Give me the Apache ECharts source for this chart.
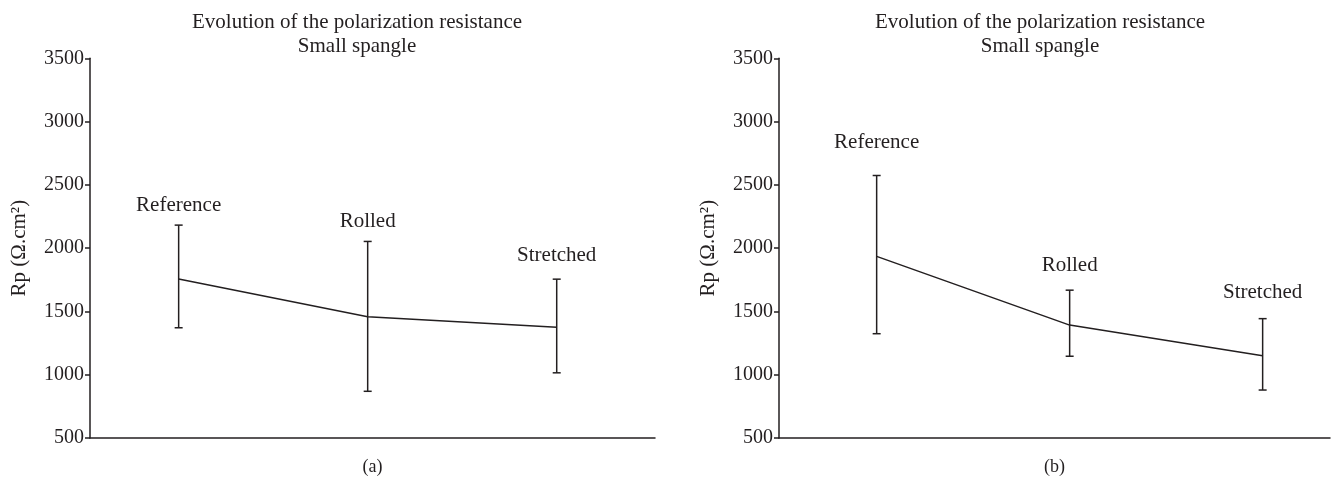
<!DOCTYPE html>
<html>
<head>
<meta charset="utf-8">
<script src="https://cdn.jsdelivr.net/npm/echarts@6/dist/echarts.min.js"></script>
<style>
html,body{margin:0;padding:0;background:#fff;}
#chart{width:1342px;height:481px;}
</style>
</head>
<body>
<div id="chart"></div>
<script>
// ---- data ----
const categories = ['Reference', 'Rolled', 'Stretched'];
const panelTitles = ['Evolution of the polarization resistance\nSmall spangle', 'Evolution of the polarization resistance\nSmall spangle'];
const panelNames = ['(a)', '(b)'];
const yAxisName = 'Rp (\u03A9.cm\u00B2)';
const yTicks = [500, 1000, 1500, 2000, 2500, 3000, 3500];

const meanA  = [1757, 1458, 1376];
const upperA = [2182, 2053, 1755];
const lowerA = [1371, 869, 1015];

const meanB  = [1935, 1392, 1150];
const upperB = [2574, 1668, 1443];
const lowerB = [1324, 1146, 879];

// ---- styling ----
const FONT = "'Liberation Serif','Times New Roman',serif";
const INK = '#231f20';
const labelGaps = [[20, 20, 24], [33, 25, 26]];

const chart = echarts.init(document.getElementById('chart'));

function makeErr(panel) {
  return function (params, api) {
    const x = api.value(0);
    const lo = api.coord([x, api.value(1)]);
    const hi = api.coord([x, api.value(2)]);
    const cap = 4;
    const st = { stroke: INK, lineWidth: 1.5 };
    return {
      type: 'group',
      children: [
        { type: 'line', shape: { x1: lo[0], y1: lo[1], x2: hi[0], y2: hi[1] }, style: st },
        { type: 'line', shape: { x1: hi[0] - cap, y1: hi[1], x2: hi[0] + cap, y2: hi[1] }, style: st },
        { type: 'line', shape: { x1: lo[0] - cap, y1: lo[1], x2: lo[0] + cap, y2: lo[1] }, style: st },
        { type: 'text', x: hi[0], y: hi[1] - labelGaps[panel][params.dataIndex],
          style: { text: categories[params.dataIndex], fill: INK, font: '21px ' + FONT,
                   align: 'center', verticalAlign: 'middle' } }
      ]
    };
  };
}

const grids = [
  { left: 90, right: 687, top: 58.3, bottom: 34.3 },
  { left: 779, right: 12, top: 58.3, bottom: 34.3 }
];
const xRanges = [[-0.469, 2.52], [-0.506, 2.349]];
const titleCenters = [352, 1035];

const means = [meanA, meanB], uppers = [upperA, upperB], lowers = [lowerA, lowerB];

const option = {
  backgroundColor: '#fff',
  animation: false,
  title: [0, 1].map(i => ({
    text: panelTitles[i],
    left: titleCenters[i], top: 5, textAlign: 'center',
    textStyle: { fontFamily: FONT, fontSize: 21, fontWeight: 'normal', color: INK, lineHeight: 24 }
  })),
  grid: grids,
  xAxis: [0, 1].map(i => ({
    type: 'value', gridIndex: i, min: xRanges[i][0], max: xRanges[i][1],
    name: panelNames[i], nameLocation: 'middle', nameGap: 20,
    nameTextStyle: { fontFamily: FONT, fontSize: 18, color: INK },
    axisLine: { show: true, onZero: false, lineStyle: { color: INK, width: 1.5 } },
    axisTick: { show: false }, axisLabel: { show: false }, splitLine: { show: false }
  })),
  yAxis: [0, 1].map(i => ({
    type: 'value', gridIndex: i, min: yTicks[0], max: yTicks[yTicks.length - 1], interval: 500,
    name: yAxisName, nameLocation: 'middle', nameGap: 60, nameRotate: 90,
    nameTextStyle: { fontFamily: FONT, fontSize: 21, color: INK },
    axisLine: { show: true, onZero: false, lineStyle: { color: INK, width: 1.5 } },
    axisTick: { show: true, length: 5, lineStyle: { color: INK, width: 1.5 } },
    axisLabel: { fontFamily: FONT, fontSize: 20, color: INK, margin: 6, formatter: v => String(v) },
    splitLine: { show: false }
  })),
  series: []
};

[0, 1].forEach(i => {
  option.series.push({
    type: 'line', xAxisIndex: i, yAxisIndex: i,
    data: means[i].map((v, k) => [k, v]),
    symbol: 'none', lineStyle: { color: INK, width: 1.5 }, silent: true
  });
  option.series.push({
    type: 'custom', xAxisIndex: i, yAxisIndex: i,
    data: categories.map((c, k) => [k, lowers[i][k], uppers[i][k]]),
    renderItem: makeErr(i), silent: true
  });
});

chart.setOption(option);
</script>
</body>
</html>
